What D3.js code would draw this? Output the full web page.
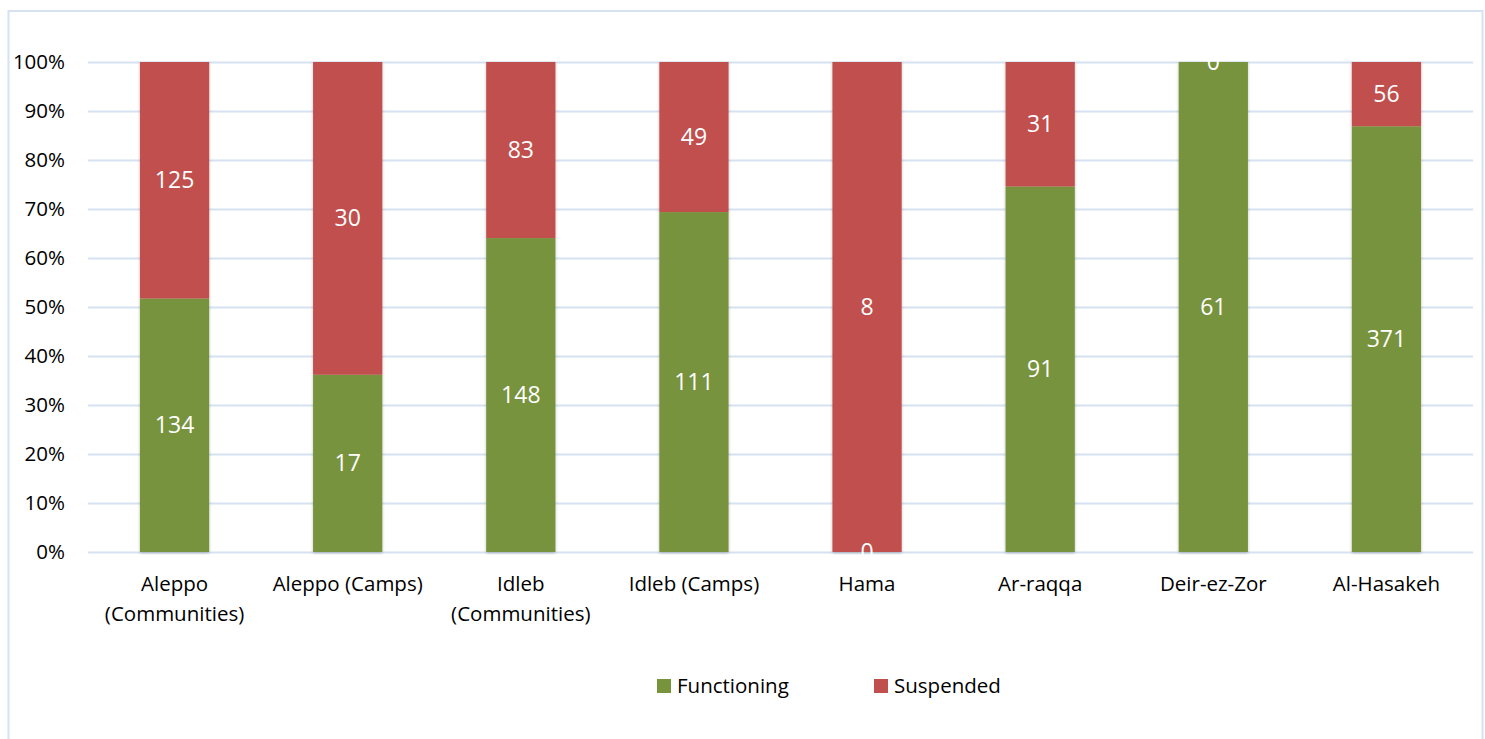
<!DOCTYPE html>
<html>
<head>
<meta charset="utf-8">
<script src="https://cdn.jsdelivr.net/npm/d3@7"></script>
<style>
  body { margin: 0; background: #fff; }
  svg { font-family: "Open Sans", "Noto Sans", sans-serif; }
</style>
</head>
<body>
<div id="chart"></div>
<script>
// data
const categories = ["Aleppo (Communities)", "Aleppo (Camps)", "Idleb (Communities)", "Idleb (Camps)", "Hama", "Ar-raqqa", "Deir-ez-Zor", "Al-Hasakeh"];
const categoryLines = [["Aleppo", "(Communities)"], ["Aleppo (Camps)"], ["Idleb", "(Communities)"], ["Idleb (Camps)"], ["Hama"], ["Ar-raqqa"], ["Deir-ez-Zor"], ["Al-Hasakeh"]];
const functioning = [134, 17, 148, 111, 0, 91, 61, 371];
const suspended = [125, 30, 83, 49, 8, 31, 0, 56];
const seriesNames = ["Functioning", "Suspended"];
const seriesColors = ["#77933C", "#C0504D"];
const yTicks = [0, 0.1, 0.2, 0.3, 0.4, 0.5, 0.6, 0.7, 0.8, 0.9, 1];

const width = 1485, height = 739;
const margin = {left: 88, right: 12, top: 62, bottom: 187};
const textSize = 20.5;

const svg = d3.select('#chart').append('svg')
    .attr('width', width)
    .attr('height', height);

// chart frame
svg.append('rect')
    .attr('x', 8.5).attr('y', 11)
    .attr('width', 1474).attr('height', 760)
    .attr('fill', 'none')
    .attr('stroke', '#d6e2f2')
    .attr('stroke-width', 2);

const scaleX = d3.scaleBand()
    .domain(categories)
    .range([margin.left, width - margin.right])
    .paddingInner(0.6)
    .paddingOuter(0.3);

const scaleY = d3.scaleLinear()
    .domain([0, 1])
    .range([height - margin.bottom, margin.top]);

// gridlines
svg.append('g')
    .selectAll('line')
    .data(yTicks)
    .join('line')
    .attr('x1', margin.left)
    .attr('x2', width - margin.right)
    .attr('y1', d => scaleY(d) + 0.5)
    .attr('y2', d => scaleY(d) + 0.5)
    .attr('stroke', '#d6e2f2')
    .attr('stroke-width', 2);

// y axis labels
const yAxis = svg.append('g')
    .attr('transform', `translate(${margin.left - 23}, 0)`)
    .call(d3.axisLeft(scaleY).tickValues(yTicks).tickFormat(d3.format('.0%')).tickSize(0).tickPadding(0));
yAxis.select('.domain').remove();
yAxis.selectAll('text')
    .attr('font-size', textSize)
    .attr('font-family', '"Open Sans", sans-serif')
    .attr('fill', '#000');

// stack
const rows = categories.map((c, i) => {
    const total = functioning[i] + suspended[i];
    return {cat: c, Functioning: functioning[i] / total, Suspended: suspended[i] / total,
            raw: {Functioning: functioning[i], Suspended: suspended[i]}};
});
const stacked = d3.stack().keys(seriesNames)(rows);

const shadow = svg.append('defs').append('filter')
    .attr('id', 'shadow').attr('x', '-10%').attr('y', '-10%').attr('width', '120%').attr('height', '120%');
shadow.append('feDropShadow')
    .attr('dx', 0).attr('dy', 1).attr('stdDeviation', 1.5)
    .attr('flood-color', '#000').attr('flood-opacity', 0.25);

const barsG = svg.append('g').attr('filter', 'url(#shadow)');
stacked.forEach((layer, li) => {
    barsG.append('g')
        .selectAll('rect')
        .data(layer)
        .join('rect')
        .attr('x', d => scaleX(d.data.cat))
        .attr('width', scaleX.bandwidth())
        .attr('y', d => scaleY(d[1]))
        .attr('height', d => scaleY(d[0]) - scaleY(d[1]))
        .attr('fill', seriesColors[li]);
});

// value labels
stacked.forEach(layer => {
    svg.append('g')
        .selectAll('text')
        .data(layer)
        .join('text')
        .attr('x', d => scaleX(d.data.cat) + scaleX.bandwidth() / 2)
        .attr('y', d => scaleY((d[0] + d[1]) / 2))
        .attr('dy', '0.35em')
        .attr('text-anchor', 'middle')
        .attr('font-size', 23)
        .attr('fill', '#fff')
        .text(d => d.data.raw[layer.key]);
});

// category labels
const catG = svg.append('g')
    .selectAll('text')
    .data(categories)
    .join('text')
    .attr('x', d => scaleX(d) + scaleX.bandwidth() / 2)
    .attr('y', 591)
    .attr('text-anchor', 'middle')
    .attr('font-size', textSize)
    .attr('fill', '#000');
catG.selectAll('tspan')
    .data((d, i) => categoryLines[i])
    .join('tspan')
    .attr('x', function() { return this.parentNode.getAttribute('x'); })
    .attr('dy', (d, i) => i === 0 ? 0 : 30)
    .text(d => d);

// legend
const legendX = [657, 874];
const legend = svg.append('g')
    .selectAll('g')
    .data(seriesNames)
    .join('g')
    .attr('transform', (d, i) => `translate(${legendX[i]}, 679)`);
legend.append('rect')
    .attr('width', 14).attr('height', 14)
    .attr('fill', (d, i) => seriesColors[i]);
legend.append('text')
    .attr('x', 20).attr('y', 7)
    .attr('dy', '0.35em')
    .attr('font-size', textSize)
    .attr('fill', '#000')
    .text(d => d);
</script>
</body>
</html>
